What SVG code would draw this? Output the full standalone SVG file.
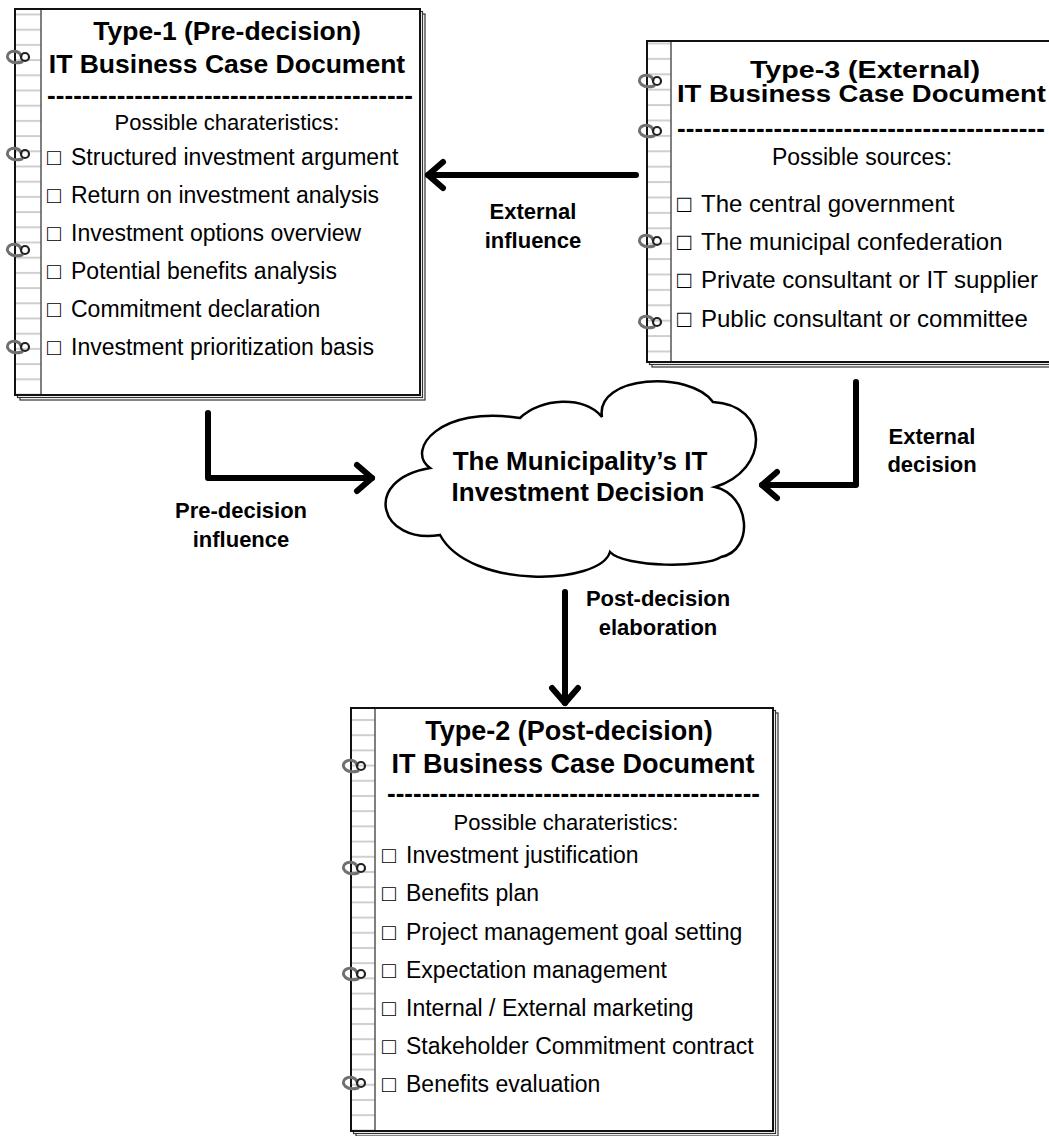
<svg xmlns="http://www.w3.org/2000/svg" width="1049" height="1136" viewBox="0 0 1049 1136">
<defs>
<style>
.page{fill:#fff;stroke:#111;stroke-width:2}
.back{fill:#fff;stroke:#333;stroke-width:1.2}
.spine{stroke:#555;stroke-width:1.5}
.title{font-family:"Liberation Sans",Arial,sans-serif;font-weight:bold;text-anchor:middle;fill:#000}
.tstart{font-family:"Liberation Sans",Arial,sans-serif;font-weight:bold;fill:#000}
.dash{font-family:"Liberation Sans",Arial,sans-serif;font-weight:bold;fill:#000}
.item{font-family:"Liberation Sans",Arial,sans-serif;fill:#000}
.mid{text-anchor:middle}
.lbl{font-family:"Liberation Sans",Arial,sans-serif;font-weight:bold;font-size:22px;text-anchor:middle;fill:#000}
.conn{fill:none;stroke:#000;stroke-width:6;stroke-linecap:round;stroke-linejoin:round}
.curl{fill:none;stroke:#707070;stroke-width:3;stroke-linecap:round}
.ring{fill:none;stroke:#222;stroke-width:2.2}
.cloud{fill:#fff;stroke:#000;stroke-width:2.5}
</style>
<marker id="ah" markerUnits="userSpaceOnUse" viewBox="-4 -4 28 38" markerWidth="28" markerHeight="38" refX="17" refY="15" orient="auto" overflow="visible">
<path d="M2,2 L17,15 L2,28" fill="none" stroke="#000" stroke-width="6" stroke-linecap="round" stroke-linejoin="round"/>
</marker>
<g id="spiral">
<path class="curl" d="M7,5 C-4,8 -11,1 -6,-4 C-2,-7 5,-6 6,-1"/>
<circle class="ring" cx="10" cy="0" r="4"/>
</g>
<pattern id="r1" patternUnits="userSpaceOnUse" x="0" y="13.5" width="1049" height="15.2"><rect width="1049" height="2" fill="#cfcfcf"/></pattern>
<pattern id="r3" patternUnits="userSpaceOnUse" x="0" y="42.5" width="1049" height="15.4"><rect width="1049" height="2" fill="#cfcfcf"/></pattern>
<pattern id="r2" patternUnits="userSpaceOnUse" x="0" y="719" width="1049" height="15.2"><rect width="1049" height="2" fill="#cfcfcf"/></pattern>
</defs>

<g id="type1">
<rect class="back" x="20" y="14" width="405" height="386"/>
<rect class="back" x="17.5" y="11.5" width="405" height="386"/>
<rect class="page" x="15" y="9" width="405" height="386"/>
<rect x="16" y="10" width="25" height="384" fill="url(#r1)"/>
<line class="spine" x1="41" y1="10" x2="41" y2="394"/>
<use href="#spiral" x="15" y="57"/>
<use href="#spiral" x="15" y="154"/>
<use href="#spiral" x="15" y="250"/>
<use href="#spiral" x="15" y="347"/>
<text class="title" font-size="26.5"><tspan x="227" y="40">Type-1 (Pre-decision)</tspan><tspan x="227" y="73">IT Business Case Document</tspan></text>
<text class="dash" x="47" y="104" font-size="26" textLength="366" lengthAdjust="spacing">------------------------------------------</text>
<text class="item mid" x="227" y="130" font-size="22">Possible charateristics:</text>
<g class="item" font-size="23">
<text><tspan x="47" y="165">□</tspan><tspan x="71">Structured investment argument</tspan></text>
<text><tspan x="47" y="203">□</tspan><tspan x="71">Return on investment analysis</tspan></text>
<text><tspan x="47" y="241">□</tspan><tspan x="71">Investment options overview</tspan></text>
<text><tspan x="47" y="279">□</tspan><tspan x="71">Potential benefits analysis</tspan></text>
<text><tspan x="47" y="317">□</tspan><tspan x="71">Commitment declaration</tspan></text>
<text><tspan x="47" y="355">□</tspan><tspan x="71">Investment prioritization basis</tspan></text>
</g>
</g>

<g id="type3">
<rect class="back" x="652" y="46" width="420" height="321"/>
<rect class="back" x="649.5" y="43.5" width="420" height="321"/>
<rect class="page" x="647" y="41" width="420" height="321"/>
<rect x="648" y="42" width="23" height="319" fill="url(#r3)"/>
<line class="spine" x1="671" y1="42" x2="671" y2="361"/>
<use href="#spiral" x="647" y="81"/>
<use href="#spiral" x="647" y="131"/>
<use href="#spiral" x="647" y="241"/>
<use href="#spiral" x="647" y="322"/>
<text class="tstart" font-size="23.5"><tspan x="750" y="78" textLength="230" lengthAdjust="spacingAndGlyphs">Type-3 (External)</tspan><tspan x="677" y="102" textLength="369" lengthAdjust="spacingAndGlyphs">IT Business Case Document</tspan></text>
<text class="dash" x="677" y="137" font-size="26" textLength="368" lengthAdjust="spacing">------------------------------------------</text>
<text class="item mid" x="862" y="165" font-size="23">Possible sources:</text>
<g class="item" font-size="24">
<text><tspan x="677" y="212">□</tspan><tspan x="701">The central government</tspan></text>
<text><tspan x="677" y="250">□</tspan><tspan x="701">The municipal confederation</tspan></text>
<text><tspan x="677" y="288">□</tspan><tspan x="701">Private consultant or IT supplier</tspan></text>
<text><tspan x="677" y="327">□</tspan><tspan x="701">Public consultant or committee</tspan></text>
</g>
</g>

<g id="type2">
<rect class="back" x="356" y="713" width="422" height="423"/>
<rect class="back" x="353.5" y="710.5" width="422" height="423"/>
<rect class="page" x="351" y="708" width="422" height="423"/>
<rect x="352" y="709" width="23" height="421" fill="url(#r2)"/>
<line class="spine" x1="375" y1="709" x2="375" y2="1130"/>
<use href="#spiral" x="351" y="766"/>
<use href="#spiral" x="351" y="868"/>
<use href="#spiral" x="351" y="974"/>
<use href="#spiral" x="351" y="1083"/>
<text class="title" font-size="27"><tspan x="569" y="740">Type-2 (Post-decision)</tspan><tspan x="573" y="773">IT Business Case Document</tspan></text>
<text class="dash" x="387" y="802" font-size="26" textLength="373" lengthAdjust="spacing">-------------------------------------------</text>
<text class="item mid" x="566" y="830" font-size="22">Possible charateristics:</text>
<g class="item" font-size="23">
<text><tspan x="382" y="863">□</tspan><tspan x="406">Investment justification</tspan></text>
<text><tspan x="382" y="901">□</tspan><tspan x="406">Benefits plan</tspan></text>
<text><tspan x="382" y="940">□</tspan><tspan x="406">Project management goal setting</tspan></text>
<text><tspan x="382" y="978">□</tspan><tspan x="406">Expectation management</tspan></text>
<text><tspan x="382" y="1016">□</tspan><tspan x="406">Internal / External marketing</tspan></text>
<text><tspan x="382" y="1054">□</tspan><tspan x="406">Stakeholder Commitment contract</tspan></text>
<text><tspan x="382" y="1092">□</tspan><tspan x="406">Benefits evaluation</tspan></text>
</g>
</g>

<g id="decision">
<path class="cloud" d="M715,487 C750,495 755,550 721,557 C705,568 625,568 610,552 C600,585 470,590 440,535 C380,545 360,480 430,468 C405,450 440,405 520,418 C540,398 585,395 602,417 C595,375 690,370 713,402 C770,405 770,470 715,487 Z"/>
<text class="title" font-size="26"><tspan x="580" y="470">The Municipality’s IT</tspan><tspan x="578" y="501">Investment Decision</tspan></text>
</g>

<g id="connectors">
<path class="conn" d="M636,175 L428,175" marker-end="url(#ah)"/>
<path class="conn" d="M208,413 L208,478 L372,478" marker-end="url(#ah)"/>
<path class="conn" d="M856,382 L856,485 L762,485" marker-end="url(#ah)"/>
<path class="conn" d="M565,592 L565,703" marker-end="url(#ah)"/>
<text class="lbl"><tspan x="533" y="219">External</tspan><tspan x="533" y="248">influence</tspan></text>
<text class="lbl"><tspan x="241" y="518">Pre-decision</tspan><tspan x="241" y="547">influence</tspan></text>
<text class="lbl"><tspan x="932" y="444">External</tspan><tspan x="932" y="472">decision</tspan></text>
<text class="lbl"><tspan x="658" y="606">Post-decision</tspan><tspan x="658" y="635">elaboration</tspan></text>
</g>
</svg>
